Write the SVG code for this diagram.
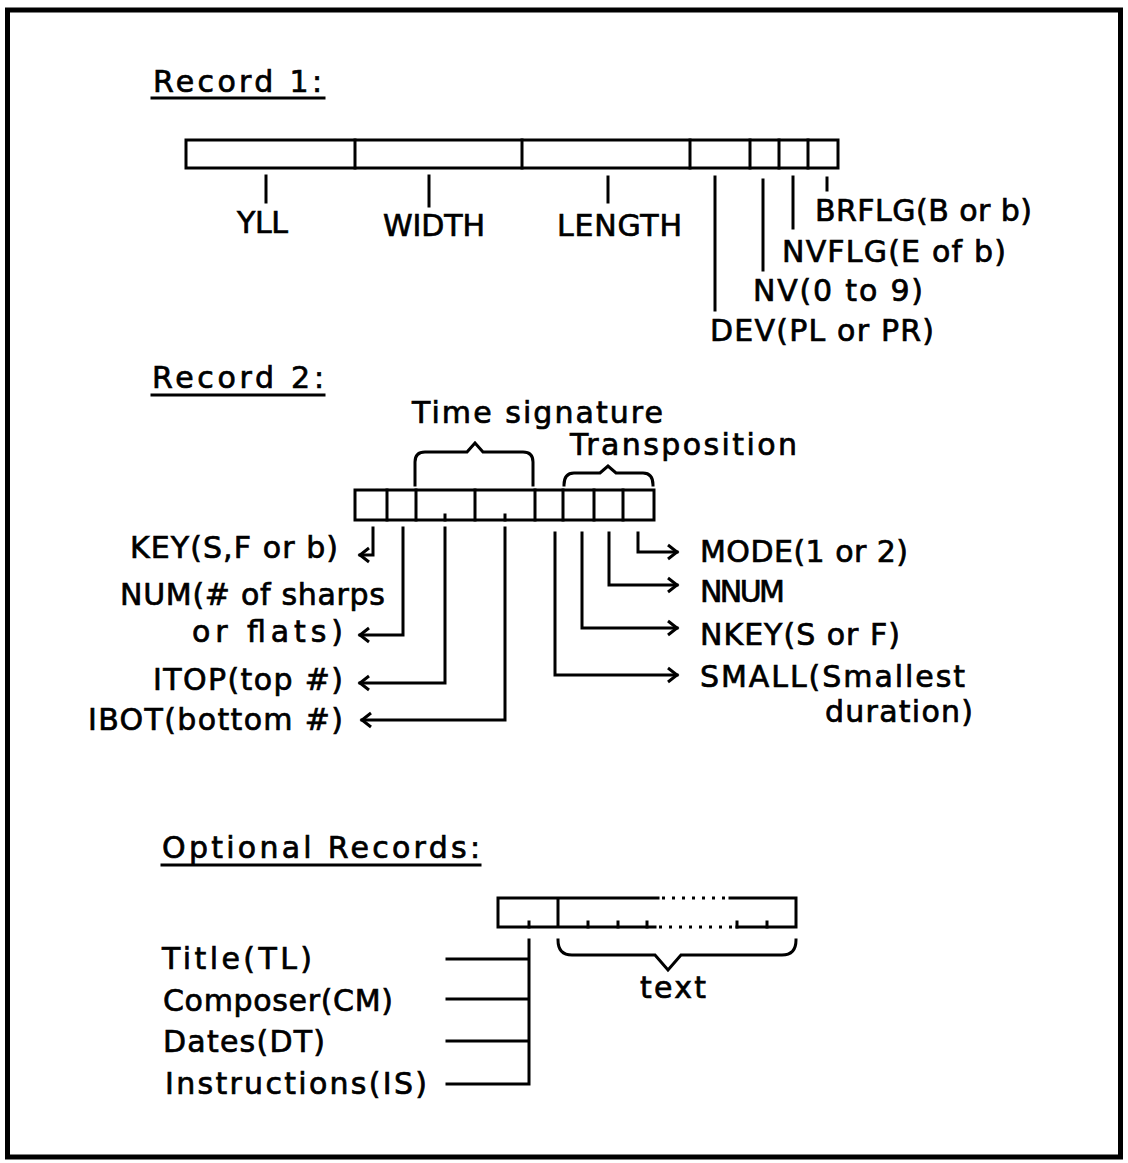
<svg xmlns="http://www.w3.org/2000/svg" width="1128" height="1163" viewBox="0 0 1128 1163">
<style>
  .t { font-family: "DejaVu Sans", "Liberation Sans", sans-serif; font-size: 30px; fill: #000; stroke: #000; stroke-width: 0.7px; }
  .ln { stroke: #000; stroke-width: 3; fill: none; stroke-linecap: square; }
  .box { stroke: #000; stroke-width: 3; fill: #fff; }
  .dot { stroke: #000; stroke-width: 3; fill: none; stroke-dasharray: 3 7; }
</style>
<defs>
  <marker id="arr" markerUnits="userSpaceOnUse" markerWidth="16" markerHeight="18" refX="12" refY="9" orient="auto">
    <path d="M3,2 L12,9 L3,16" stroke="#000" stroke-width="3" fill="none"/>
  </marker>
</defs>
<rect x="7.5" y="10" width="1113" height="1147" fill="none" stroke="#000" stroke-width="5"/>

<g id="record1">
  <text class="t" x="153" y="92" textLength="169">Record 1:</text>
  <line class="ln" x1="152" y1="98" x2="324" y2="98"/>
  <g id="record1-bar">
    <rect class="box" x="186" y="140" width="652" height="28"/>
    <path class="ln" d="M355,140 V168 M522,140 V168 M690,140 V168 M750,140 V168 M779,140 V168 M808,140 V168"/>
  </g>
  <g id="r1-yll"><text class="t" x="237" y="233" textLength="51">YLL</text></g>
  <g id="r1-width"><text class="t" x="383" y="236" textLength="102">WIDTH</text></g>
  <g id="r1-length"><text class="t" x="557" y="236" textLength="125">LENGTH</text></g>
  <g id="r1-brflg"><text class="t" x="815" y="221" textLength="217">BRFLG(B or b)</text></g>
  <g id="r1-nvflg"><text class="t" x="782" y="262" textLength="224">NVFLG(E of b)</text></g>
  <g id="r1-nv"><text class="t" x="753" y="301" textLength="170">NV(0 to 9)</text></g>
  <g id="r1-dev"><text class="t" x="710" y="341" textLength="224">DEV(PL or PR)</text></g>
</g>

<g id="record2">
  <text class="t" x="152" y="388" textLength="172">Record 2:</text>
  <line class="ln" x1="152" y1="395" x2="324" y2="395"/>
  <g id="r2-timesig">
    <text class="t" x="412" y="423" textLength="251">Time signature</text>
    <path class="ln" d="M415,485 V462 Q415,452 425,452 H467 L475,443 L483,452 H523 Q533,452 533,462 V485"/>
  </g>
  <g id="r2-transp">
    <text class="t" x="570" y="455" textLength="227">Transposition</text>
    <path class="ln" d="M564,485 Q564,473 574,473 H600 L608,466 L616,473 H643 Q653,473 653,485"/>
  </g>
  <g id="record2-bar">
    <rect class="box" x="355" y="490" width="299" height="30"/>
    <path class="ln" d="M387,490 V520 M416,490 V520 M475,490 V520 M535,490 V520 M563,490 V520 M594,490 V520 M623,490 V520 M445,515 V520 M505,515 V520"/>
  </g>
  <g id="r2-key"><text class="t" x="130" y="558" textLength="208">KEY(S,F or b)</text></g>
  <g id="r2-num">
    <text class="t" x="120" y="605" textLength="265">NUM(# of sharps</text>
    <text class="t" x="192" y="642" textLength="151">or  flats)</text>
  </g>
  <g id="r2-itop"><text class="t" x="153" y="690" textLength="190">ITOP(top #)</text></g>
  <g id="r2-ibot"><text class="t" x="88" y="730" textLength="255">IBOT(bottom #)</text></g>
  <g id="r2-mode"><text class="t" x="700" y="562" textLength="208">MODE(1 or 2)</text></g>
  <g id="r2-nnum"><text class="t" x="700" y="602" textLength="85">NNUM</text></g>
  <g id="r2-nkey"><text class="t" x="700" y="645" textLength="200">NKEY(S or F)</text></g>
  <g id="r2-small">
    <text class="t" x="700" y="687" textLength="265">SMALL(Smallest</text>
    <text class="t" x="825" y="722" textLength="148">duration)</text>
  </g>
</g>

<g id="optional">
  <text class="t" x="162" y="858" textLength="318">Optional Records:</text>
  <line class="ln" x1="162" y1="865" x2="480" y2="865"/>
  <g id="opt-bar">
    <path class="ln" d="M658,898 H498 V927 H655 M730,898 H796 V927 H737 M558,898 V927"/>
    <path class="dot" d="M662,898 H728 M659,927 H735"/>
    <path class="ln" d="M529,922 V927 M588,922 V927 M618,922 V927 M647,922 V927 M737,922 V927 M767,922 V927"/>
  </g>
  <g id="opt-text">
    <path class="ln" d="M558,940 Q558,955 572,955 H655 L668,970 L681,955 H782 Q796,955 796,940"/>
    <text class="t" x="640" y="998" textLength="66">text</text>
  </g>
  <g id="opt-title"><text class="t" x="162" y="969" textLength="150">Title(TL)</text></g>
  <g id="opt-composer"><text class="t" x="163" y="1011" textLength="230">Composer(CM)</text></g>
  <g id="opt-dates"><text class="t" x="163" y="1052" textLength="162">Dates(DT)</text></g>
  <g id="opt-instr"><text class="t" x="165" y="1094" textLength="262">Instructions(IS)</text></g>
</g>

<g id="connectors">
  <path class="ln" d="M266,176 V202"/>
  <path class="ln" d="M429,176 V206"/>
  <path class="ln" d="M608,177 V202"/>
  <path class="ln" d="M715,177 V310"/>
  <path class="ln" d="M763,180 V270"/>
  <path class="ln" d="M793,177 V228"/>
  <path class="ln" d="M827,178 V190"/>

  <path class="ln" d="M373,528 V555 H360" marker-end="url(#arr)"/>
  <path class="ln" d="M403,528 V635 H360" marker-end="url(#arr)"/>
  <path class="ln" d="M445,528 V683 H360" marker-end="url(#arr)"/>
  <path class="ln" d="M505,528 V720 H362" marker-end="url(#arr)"/>

  <path class="ln" d="M638,533 V552 H677" marker-end="url(#arr)"/>
  <path class="ln" d="M609,533 V585 H677" marker-end="url(#arr)"/>
  <path class="ln" d="M582,533 V628 H677" marker-end="url(#arr)"/>
  <path class="ln" d="M555,533 V675 H677" marker-end="url(#arr)"/>

  <path class="ln" d="M529,940 V1084 H447 M447,959 H529 M447,999 H529 M447,1041 H529"/>
</g>
</svg>
